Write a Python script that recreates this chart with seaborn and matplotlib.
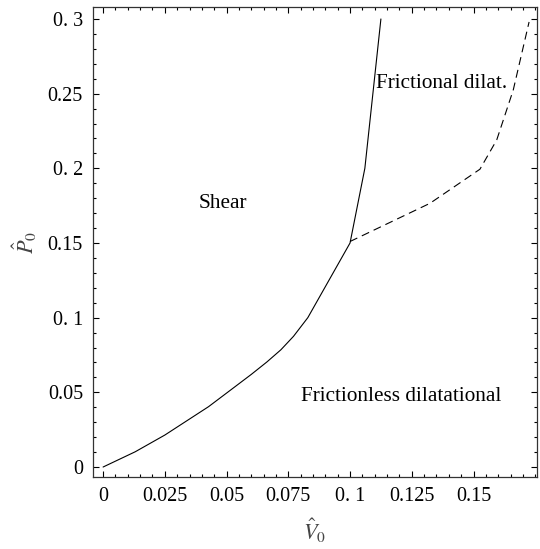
import matplotlib
matplotlib.use("Agg")
import matplotlib.pyplot as plt
from matplotlib.ticker import MultipleLocator, FixedLocator, FixedFormatter
import seaborn as sns

# Boundary between shear and dilatational regimes
shear_v = [0.0, 0.013, 0.025, 0.0427, 0.0528, 0.0600, 0.0663, 0.0720, 0.0771, 0.0829,
           0.100, 0.106, 0.1125]
shear_p = [0.0, 0.0102, 0.0214, 0.0404, 0.0530, 0.0620, 0.0703, 0.0785, 0.0875, 0.100,
           0.150, 0.200, 0.300]

# Boundary between frictional and frictionless dilatation
dilat_v = [0.100, 0.1324, 0.1526, 0.1594, 0.1661, 0.1725]
dilat_p = [0.151, 0.1766, 0.1994, 0.219, 0.2525, 0.298]

x_ticks = [0, 0.025, 0.05, 0.075, 0.1, 0.125, 0.15]
x_tick_labels = ["0", "0.025", "0.05", "0.075", "0. 1", "0.125", "0.15"]
y_ticks = [0, 0.05, 0.1, 0.15, 0.2, 0.25, 0.3]
y_tick_labels = ["0", "0.05", "0. 1", "0.15", "0. 2", "0.25", "0. 3"]

region_labels = ["Shear", "Frictional dilat.", "Frictionless dilatational"]
region_pos = [(0.0487, 0.1766), (0.1372, 0.257), (0.1209, 0.0471)]

sns.set_theme(style="ticks")
plt.rcParams["font.family"] = ["Liberation Serif", "DejaVu Serif"]
plt.rcParams["mathtext.fontset"] = "stix"
plt.rcParams["lines.scale_dashes"] = False

fig = plt.figure(figsize=(5.4, 5.49), dpi=100)
ax = fig.add_axes([0.1717, 0.1311, 0.8227, 0.8561])

sns.lineplot(x=shear_v, y=shear_p, sort=False, estimator=None, color="black",
             linewidth=0.8, ax=ax)
sns.lineplot(x=dilat_v, y=dilat_p, sort=False, estimator=None, color="black",
             linewidth=0.8, ax=ax, linestyle=(0, (5.8, 3.6)))

ax.set_xlim(-0.0042, 0.1757)
ax.set_ylim(-0.0067, 0.308)

ax.xaxis.set_major_locator(FixedLocator(x_ticks))
ax.xaxis.set_major_formatter(FixedFormatter(x_tick_labels))
ax.yaxis.set_major_locator(FixedLocator(y_ticks))
ax.yaxis.set_major_formatter(FixedFormatter(y_tick_labels))
ax.xaxis.set_minor_locator(MultipleLocator(0.005))
ax.yaxis.set_minor_locator(MultipleLocator(0.01))

ax.tick_params(which="both", direction="in", top=True, right=True,
               colors="black", labelsize=14.5, width=0.8)
ax.tick_params(which="major", length=4.5, pad=7)
ax.tick_params(which="minor", length=2.5)
for side in ax.spines.values():
    side.set_linewidth(0.9)
    side.set_color("#333333")

ax.set_xlabel(r"$\hat{V}_0$", fontsize=16, labelpad=8, color="#444444")
ax.set_ylabel(r"$\hat{P}_0$", fontsize=16, labelpad=6, color="#444444")

for text, (tx, ty) in zip(region_labels, region_pos):
    ax.text(tx, ty, text, ha="center", va="center", fontsize=15.3, color="black")

fig.savefig("out.png", dpi=100)
